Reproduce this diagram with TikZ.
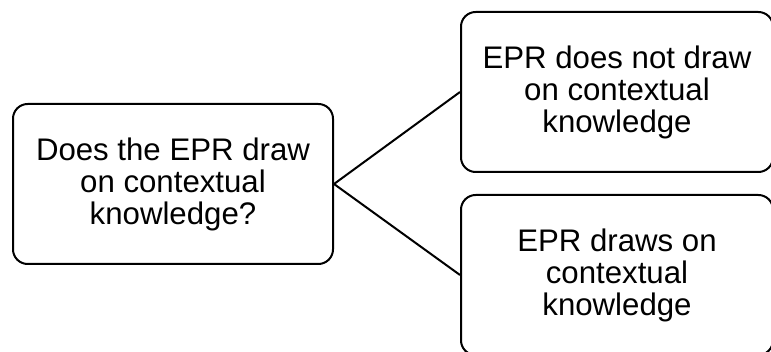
\documentclass[tikz,border=0pt]{standalone}
\usepackage{fontspec}
\setmainfont{Liberation Sans}
\begin{document}
\begin{tikzpicture}[x=0.75pt,y=-0.75pt,
  box/.style={draw=black, line width=1.5pt, rounded corners=11pt, fill=white,
    align=center, font=\fontsize{23.4}{24}\selectfont, inner sep=0pt},
  link/.style={draw=black, line width=1.5pt}]
  \useasboundingbox (0,0) rectangle (771,352);
  \clip (0,0) rectangle (771,352);
  % question box and the two outcomes
  \node[box, minimum width=240pt, minimum height=120pt] (q) at (173,184)
    {Does the EPR draw\\on contextual\\knowledge?};
  \node[box, minimum width=234pt, minimum height=120pt] (no) at (617,92)
    {EPR does not draw\\on contextual\\knowledge};
  \node[box, minimum width=234pt, minimum height=120pt] (yes) at (617,275)
    {EPR draws on\\contextual\\knowledge};
  % branches
  \draw[link] (q.east) -- (no.west);
  \draw[link] (q.east) -- (yes.west);
\end{tikzpicture}
\end{document}
